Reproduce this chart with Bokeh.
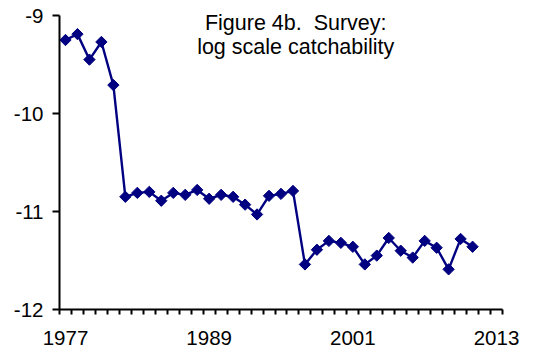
from bokeh.plotting import figure
from bokeh.models import Range1d, FixedTicker, Label
from bokeh.embed import file_html
from bokeh.resources import INLINE
import math

# ---- data ----
years = list(range(1977, 2012))
log_q = [-9.25, -9.19, -9.45, -9.27, -9.71,
         -10.85, -10.81, -10.80, -10.89, -10.81, -10.83, -10.78, -10.87,
         -10.83, -10.85, -10.93, -11.03, -10.84, -10.82, -10.79,
         -11.54, -11.39, -11.30, -11.32, -11.36, -11.54, -11.45, -11.27,
         -11.40, -11.47, -11.30, -11.37, -11.59, -11.28, -11.36]
x_label_years = [1977, 1989, 2001, 2013]
y_ticks = [-12, -11, -10, -9]
title_lines = ["Figure 4b.\u00a0 Survey:", "log scale catchability"]

FONT = "Liberation Sans"
NAVY = "#000080"

W, H = 534, 354
LEFT, RIGHT, TOP_AXIS, BOTTOM = 59, 32, 15, 45
frame_h = H - BOTTOM
px_per_unit = (frame_h - TOP_AXIS) / (y_ticks[-1] - y_ticks[0])
y_top = y_ticks[-1] + TOP_AXIS / px_per_unit

p = figure(width=W, height=H, output_backend="svg", toolbar_location=None,
           x_range=Range1d(x_label_years[0] - 0.5, x_label_years[-1] + 0.5),
           y_range=Range1d(y_ticks[0], y_top),
           min_border_left=LEFT, min_border_right=RIGHT, min_border_top=0,
           min_border_bottom=BOTTOM)
p.outline_line_color = None
p.grid.visible = False
p.background_fill_color = "white"
p.border_fill_color = "white"

# x axis
xa = p.xaxis[0]
xa.ticker = FixedTicker(ticks=x_label_years,
                        minor_ticks=[x_label_years[0] - 0.5 + i for i in range(x_label_years[-1] - x_label_years[0] + 2)])
xa.major_tick_line_color = None
xa.major_tick_out = 0
xa.major_tick_in = 0
xa.minor_tick_out = 5
xa.minor_tick_in = 0
xa.minor_tick_line_width = 2
xa.minor_tick_line_color = "black"
xa.axis_line_width = 2
xa.axis_line_color = "black"
xa.major_label_text_font = FONT
xa.major_label_text_font_size = "20.5px"
xa.major_label_text_color = "black"
xa.major_label_standoff = 16

# y axis
ya = p.yaxis[0]
ya.ticker = FixedTicker(ticks=y_ticks, minor_ticks=[])
ya.bounds = (y_ticks[0], y_ticks[-1])
ya.major_label_overrides = {t: str(t) for t in y_ticks}
ya.major_tick_out = 7
ya.major_tick_in = 0
ya.major_tick_line_width = 2
ya.minor_tick_line_color = None
ya.axis_line_width = 2
ya.axis_line_color = "black"
ya.major_label_text_font = FONT
ya.major_label_text_font_size = "20.5px"
ya.major_label_text_color = "black"
ya.major_label_standoff = 9

p.line(years, log_q, line_color=NAVY, line_width=2.4)
p.scatter(years, log_q, marker="square", angle=math.pi / 4, size=8,
          fill_color=NAVY, line_color=NAVY)

# title inside plot area
p.add_layout(Label(x=1996.23, y=-9.079, text=title_lines[0], text_align="center",
                   text_baseline="alphabetic", text_font=FONT, text_font_size="21.5px",
                   text_color="black"))
p.add_layout(Label(x=1996.23, y=-9.324, text=title_lines[1], text_align="center",
                   text_baseline="alphabetic", text_font=FONT, text_font_size="21.5px",
                   text_color="black"))

open("out.html", "w").write(file_html(p, INLINE))
